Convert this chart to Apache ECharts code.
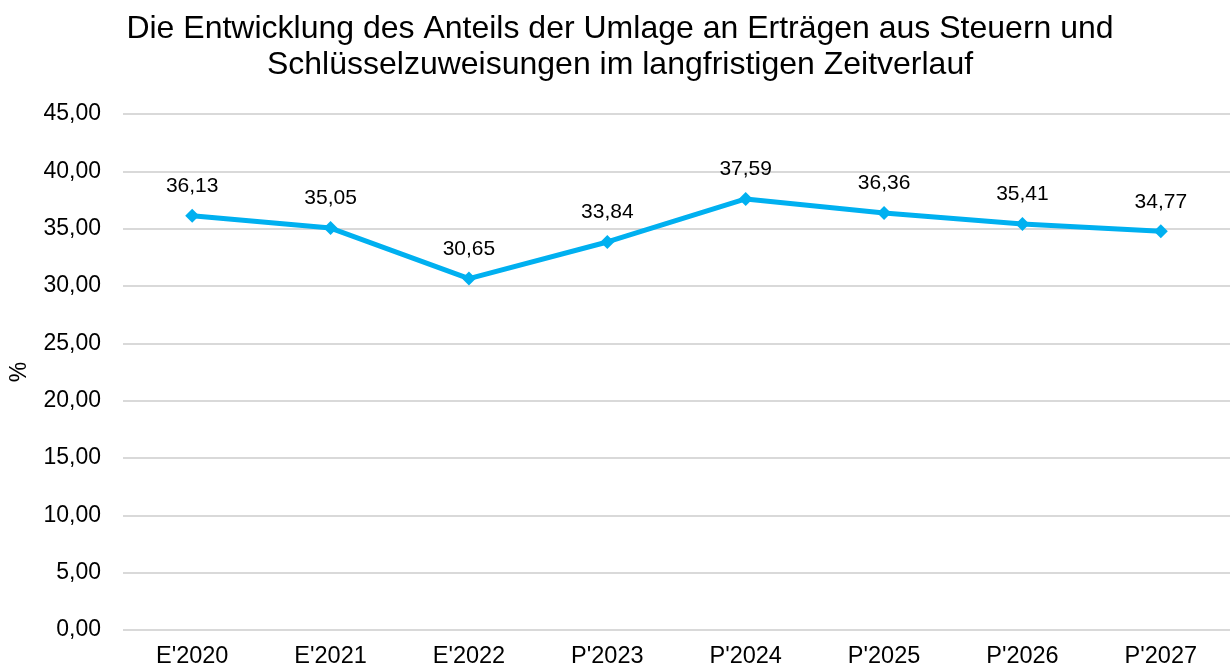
<!DOCTYPE html>
<html>
<head>
<meta charset="utf-8">
<script src="https://cdn.jsdelivr.net/npm/echarts@6/dist/echarts.min.js"></script>
<style>
	html, body { margin: 0; padding: 0; background: #fff; }
	#chart { width: 1230px; height: 669px; }
</style>
</head>
<body>
<div id="chart"></div>
<script>
	var categories = ["E'2020", "E'2021", "E'2022", "P'2023", "P'2024", "P'2025", "P'2026", "P'2027"];
	var anteil = [36.13, 35.05, 30.65, 33.84, 37.59, 36.36, 35.41, 34.77];
	var titleText = "Die Entwicklung des Anteils der Umlage an Erträgen aus Steuern und\nSchlüsselzuweisungen im langfristigen Zeitverlauf";

	function fmt(v) {
		return v.toFixed(2).replace('.', ',');
	}

	var chart = echarts.init(document.getElementById('chart'));
	var option = {
		backgroundColor: '#fff',
		animation: false,
		textStyle: { fontFamily: 'Liberation Sans, Arial, sans-serif' },
		title: {
			text: titleText,
			left: 615,
			top: 6,
			textAlign: 'center',
			textStyle: {
				fontSize: 32,
				fontWeight: 'normal',
				color: '#000',
				lineHeight: 36,
				fontFamily: 'Liberation Sans, Arial, sans-serif'
			}
		},
		grid: {
			left: 122,
			right: 0,
			top: 114,
			bottom: 38,
			containLabel: false
		},
		xAxis: {
			type: 'category',
			data: categories,
			axisLine: { show: false },
			axisTick: { show: false },
			axisLabel: {
				fontSize: 23.5,
				color: '#000',
				margin: 15
			}
		},
		yAxis: {
			type: 'value',
			min: 0,
			max: 45,
			interval: 5,
			name: '%',
			nameLocation: 'middle',
			nameGap: 92,
			nameRotate: 90,
			nameTextStyle: { fontSize: 23, color: '#000' },
			axisLine: { show: false },
			axisTick: { show: false },
			axisLabel: {
				fontSize: 23,
				color: '#000',
				margin: 22,
				formatter: function(v) { return fmt(v); }
			},
			splitLine: { lineStyle: { color: '#d9d9d9', width: 2 } }
		},
		series: [{
			type: 'line',
			data: anteil,
			symbol: 'diamond',
			symbolSize: 14,
			lineStyle: { color: '#00b0f0', width: 5 },
			itemStyle: { color: '#00b0f0' },
			label: {
				show: true,
				position: 'top',
				distance: 12,
				fontSize: 21,
				color: '#000',
				formatter: function(p) { return fmt(p.value); }
			}
		}]
	};
	chart.setOption(option);
</script>
</body>
</html>
